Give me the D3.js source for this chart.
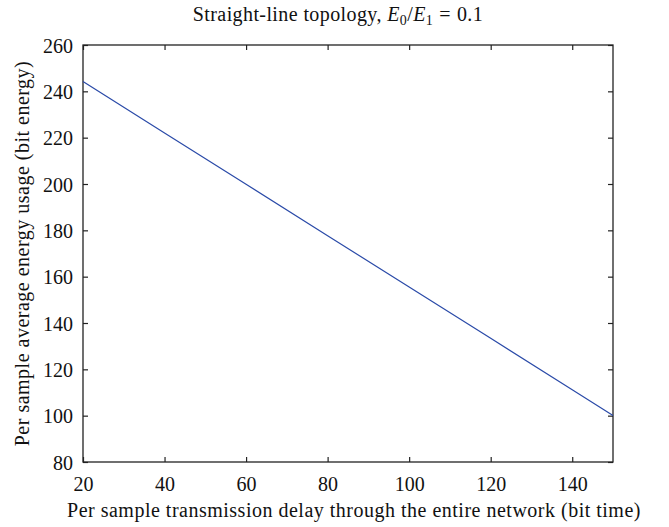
<!DOCTYPE html>
<html>
<head>
<meta charset="utf-8">
<script src="https://cdn.jsdelivr.net/npm/d3@7"></script>
<style>
  html, body { margin: 0; padding: 0; background: #fff; }
  svg { display: block; }
  text { font-family: "Liberation Serif", "DejaVu Serif", serif; fill: #111; }
</style>
</head>
<body>
<svg id="chart" width="669" height="527"></svg>
<script>
// Data
const delay = [20, 40, 60, 80, 100, 120, 140, 150];
const energy = [244.2, 222.0, 199.9, 177.7, 155.5, 133.4, 111.2, 100.1];
const xTicks = [20, 40, 60, 80, 100, 120, 140];
const yTicks = [80, 100, 120, 140, 160, 180, 200, 220, 240, 260];

const svg = d3.select("#chart");
const margin = { left: 83, top: 45, right: 669 - 613, bottom: 527 - 462 };
const W = 669, H = 527;
const x = d3.scaleLinear().domain([20, 150]).range([margin.left, W - margin.right]);
const y = d3.scaleLinear().domain([80, 260]).range([H - margin.bottom, margin.top]);

const tickLen = 5;
const fs = 20;

// Bottom axis
const gx = svg.append("g").attr("transform", `translate(0,${y(80)})`)
  .call(d3.axisBottom(x).tickValues(xTicks).tickSize(-tickLen).tickPadding(15).tickSizeOuter(0));
// Top axis (ticks only)
const gxt = svg.append("g").attr("transform", `translate(0,${y(260)})`)
  .call(d3.axisTop(x).tickValues(xTicks).tickSize(-tickLen).tickFormat("").tickSizeOuter(0));
// Left axis
const gy = svg.append("g").attr("transform", `translate(${x(20)},0)`)
  .call(d3.axisLeft(y).tickValues(yTicks).tickSize(-tickLen).tickPadding(10).tickSizeOuter(0));
// Right axis (ticks only)
const gyr = svg.append("g").attr("transform", `translate(${x(150)},0)`)
  .call(d3.axisRight(y).tickValues(yTicks).tickSize(-tickLen).tickFormat("").tickSizeOuter(0));

[gx, gxt, gy, gyr].forEach(g => {
  g.selectAll(".domain").remove();
  g.selectAll(".tick line").attr("stroke", "#222").attr("stroke-width", 1.2);
  g.selectAll("text").style("font-family", '"Liberation Serif", "DejaVu Serif", serif')
    .style("font-size", fs + "px").attr("fill", "#111");
});
gy.selectAll("text").attr("dy", "0.35em");

// Frame
svg.append("rect")
  .attr("x", x(20)).attr("y", y(260))
  .attr("width", x(150) - x(20)).attr("height", y(80) - y(260))
  .attr("fill", "none").attr("stroke", "#222").attr("stroke-width", 1.3);

// Line
const line = d3.line().x((d, i) => x(delay[i])).y(d => y(d));
svg.append("path").datum(energy)
  .attr("d", line)
  .attr("fill", "none").attr("stroke", "#2a4aa8").attr("stroke-width", 1.2);

// Title
const title = svg.append("text")
  .attr("x", 338).attr("y", 21)
  .attr("text-anchor", "middle").style("font-size", "20px").style("letter-spacing", "0.4px");
title.append("tspan").text("Straight-line topology, ");
title.append("tspan").attr("font-style", "italic").text("E");
title.append("tspan").attr("dy", 4).style("font-size", "14px").text("0");
title.append("tspan").attr("dy", -4).text("/");
title.append("tspan").attr("font-style", "italic").text("E");
title.append("tspan").attr("dy", 4).style("font-size", "14px").text("1");
title.append("tspan").attr("dy", -4).attr("dx", 6).text("=");
title.append("tspan").attr("dx", 6).text("0.1");

// X label
svg.append("text")
  .attr("x", 354).attr("y", 517)
  .attr("text-anchor", "middle").style("font-size", "20px").style("letter-spacing", "0.5px")
  .text("Per sample transmission delay through the entire network (bit time)");

// Y label
svg.append("text")
  .attr("transform", `translate(29,${(y(80) + y(260)) / 2}) rotate(-90)`)
  .attr("text-anchor", "middle").style("font-size", "20px").style("letter-spacing", "0.5px")
  .text("Per sample average energy usage (bit energy)");
</script>
</body>
</html>
